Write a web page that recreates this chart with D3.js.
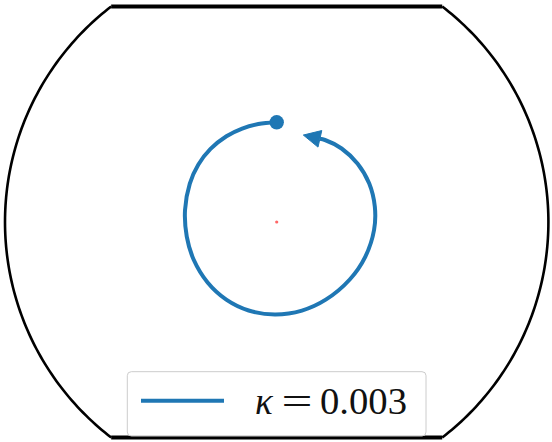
<!DOCTYPE html>
<html>
<head>
<meta charset="utf-8">
<script src="https://cdn.jsdelivr.net/npm/d3@7"></script>
<style>
  html, body { margin: 0; padding: 0; background: #fff; }
  svg { display: block; }
</style>
</head>
<body>
<svg id="chart" width="552" height="442"></svg>
<script>
// Trajectory in disk units (unit circle = outer boundary), traversed counter-clockwise
const trajX = [0.0000, -0.0677, -0.1271, -0.1851, -0.2436, -0.2882, -0.3198, -0.3374, -0.3310, -0.3054,
               -0.2543, -0.1856, -0.1032, -0.0065, 0.0927, 0.1806, 0.2689, 0.3259, 0.3583, 0.3612,
               0.3406, 0.2979, 0.2388, 0.1778];
const trajY = [0.3670, 0.3604, 0.3439, 0.3155, 0.2688, 0.2117, 0.1415, 0.0442, -0.0542, -0.1390,
               -0.2226, -0.2857, -0.3256, -0.3402, -0.3260, -0.2859, -0.2116, -0.1281, -0.0294, 0.0561,
               0.1414, 0.2143, 0.2705, 0.3018];
// Arrow tip of the final step
const arrowTip = [0.098, 0.320];
// Centre marker
const centre = [0.0, 0.0];
// Outer boundary: unit circle cut at |y| = yCut
const boundaryRadius = 1.0;
const yCut = 0.793;
const legendLabel = { sym: "κ", eq: "=", val: "0.003" };

const blue = "#1f77b4";
const svg = d3.select("#chart");

const R = 271.7;
const cx = 276.7, cy = 222;
const x = d3.scaleLinear().domain([-1, 1]).range([cx - R, cx + R]);
const y = d3.scaleLinear().domain([-1, 1]).range([cy + R, cy - R]);

// Outer boundary (arcs + horizontal cut lines)
const th0 = Math.asin(yCut / boundaryRadius);
const arcPts = (a0, a1) => d3.range(0, 121).map(i => {
  const t = a0 + (a1 - a0) * i / 120;
  return [boundaryRadius * Math.cos(t), boundaryRadius * Math.sin(t)];
});
const arcLine = d3.line().x(d => x(d[0])).y(d => y(d[1]));
svg.append("path").attr("d", arcLine(arcPts(-th0, th0)))
  .attr("fill", "none").attr("stroke", "#000").attr("stroke-width", 2.6);
svg.append("path").attr("d", arcLine(arcPts(Math.PI - th0, Math.PI + th0)))
  .attr("fill", "none").attr("stroke", "#000").attr("stroke-width", 2.6);
const xc = Math.sqrt(boundaryRadius * boundaryRadius - yCut * yCut);
[yCut, -yCut].forEach(v => {
  svg.append("line")
    .attr("x1", x(-xc)).attr("x2", x(xc))
    .attr("y1", y(v)).attr("y2", y(v))
    .attr("stroke", "#000").attr("stroke-width", 4);
});

// Trajectory
const pts = trajX.map((d, i) => [x(d), y(trajY[i])]);
const tip = [x(arrowTip[0]), y(arrowTip[1])];
const last = pts[pts.length - 1];
const dx = tip[0] - last[0], dy = tip[1] - last[1];
const len = Math.hypot(dx, dy);
const ux = dx / len, uy = dy / len;
const headLen = 17, headHalf = 8.5;
const base = [tip[0] - ux * headLen, tip[1] - uy * headLen];

svg.append("path")
  .attr("d", d3.line().curve(d3.curveCatmullRom.alpha(0.5))(pts.concat([base])))
  .attr("fill", "none").attr("stroke", blue).attr("stroke-width", 4)
  .attr("stroke-linecap", "butt");

svg.append("path")
  .attr("d", d3.line()([
    tip,
    [base[0] - uy * headHalf, base[1] + ux * headHalf],
    [base[0] + uy * headHalf, base[1] - ux * headHalf]
  ]) + "Z")
  .attr("fill", blue).attr("stroke", blue).attr("stroke-width", 1).attr("stroke-linejoin", "miter");

// Start marker
svg.append("circle").attr("cx", pts[0][0]).attr("cy", pts[0][1]).attr("r", 7.2).attr("fill", blue);

// Centre marker
svg.append("circle").attr("cx", x(centre[0])).attr("cy", y(centre[1])).attr("r", 1.6)
  .attr("fill", "red").attr("opacity", 0.6);

// Legend
const lg = svg.append("g");
lg.append("rect")
  .attr("x", 127.3).attr("y", 371.7).attr("width", 298.7).attr("height", 64.3)
  .attr("rx", 4).attr("fill", "#fff").attr("fill-opacity", 0.8)
  .attr("stroke", "#cccccc").attr("stroke-width", 1);
lg.append("line").attr("x1", 141).attr("x2", 224).attr("y1", 400.7).attr("y2", 400.7)
  .attr("stroke", blue).attr("stroke-width", 4);
const fontFam = "'Liberation Serif', 'DejaVu Serif', serif";
lg.append("text").attr("x", 255).attr("y", 414).text(legendLabel.sym)
  .attr("font-family", fontFam).attr("font-style", "italic").attr("font-size", 37).attr("fill", "#111");
lg.append("text").attr("x", 281.5).attr("y", 414).text(legendLabel.eq)
  .attr("textLength", 31).attr("lengthAdjust", "spacingAndGlyphs")
  .attr("font-family", fontFam).attr("font-size", 37).attr("fill", "#111");
lg.append("text").attr("x", 320).attr("y", 414).text(legendLabel.val)
  .attr("textLength", 87).attr("lengthAdjust", "spacingAndGlyphs")
  .attr("font-family", fontFam).attr("font-size", 37).attr("fill", "#111");
</script>
</body>
</html>
